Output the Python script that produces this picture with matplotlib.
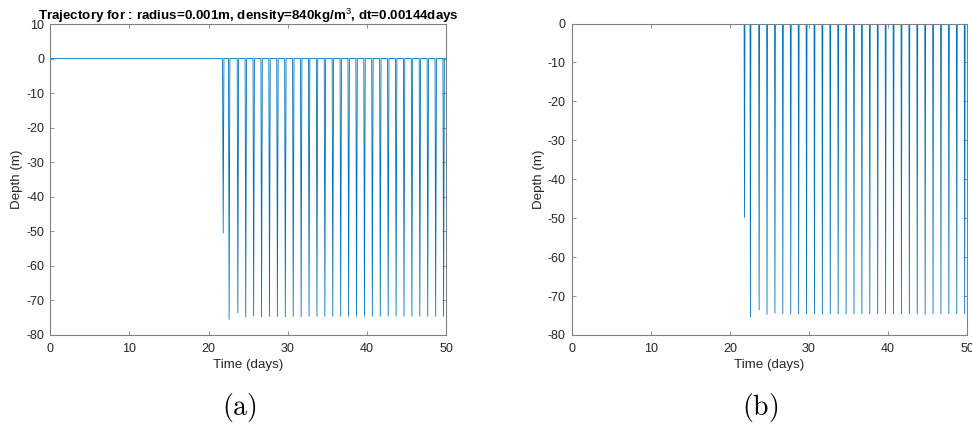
#!/usr/bin/env python3
"""
Particle depth trajectories: two runs side by side, (a) and (b).
"""

import matplotlib
matplotlib.use('Agg')
import matplotlib.pyplot as plt

# Times (days) at which each dive reaches its deepest point
dive_bottom_days = [21.85, 22.6, 23.7, 24.7, 25.7, 26.7, 27.7, 28.7, 29.7, 30.7,
                    31.7, 32.7, 33.7, 34.7, 35.7, 36.7, 37.7, 38.7, 39.7, 40.7,
                    41.7, 42.7, 43.7, 44.7, 45.7, 46.7, 47.7, 48.7, 49.7]

# Deepest point of each dive (m), run (a)
dive_depth_a = [-50.5, -75.5, -73.6, -74.8, -74.5, -74.7, -74.6, -74.6, -74.7, -74.6,
                -74.7, -74.6, -74.6, -74.6, -74.6, -74.6, -74.6, -74.6, -74.6, -74.6,
                -74.6, -74.6, -74.6, -74.6, -74.6, -74.6, -74.6, -74.6, -74.6]

# Deepest point of each dive (m), run (b)
dive_depth_b = [-49.8, -75.4, -73.5, -74.7, -74.4, -74.6, -74.6, -74.6, -74.6, -74.6,
                -74.6, -74.6, -74.6, -74.6, -74.6, -74.6, -74.6, -74.6, -74.6, -74.6,
                -74.6, -74.6, -74.6, -74.6, -74.6, -74.6, -74.6, -74.6, -74.6]

t_end = 50.0

title_a = r'Trajectory for : radius=0.001m, density=840kg/m$^3$, dt=0.00144days'
yticks_a = [10, 0, -10, -20, -30, -40, -50, -60, -70, -80]
yticks_b = [0, -10, -20, -30, -40, -50, -60, -70, -80]
xticks = [0, 10, 20, 30, 40, 50]

LINE_COLOR = '#0072BD'
AXIS_COLOR = '#808080'
TEXT_COLOR = '#262626'

plt.rcParams['font.family'] = ['Liberation Sans', 'DejaVu Sans']
plt.rcParams['axes.unicode_minus'] = False
plt.rcParams['mathtext.fontset'] = 'custom'
plt.rcParams['mathtext.rm'] = 'Liberation Sans'
plt.rcParams['mathtext.bf'] = 'Liberation Sans:bold'


def build_track(bottoms, depths, down, up):
    """Surface line broken by dives: drop to the bottom, come back up."""
    t, z = [0.0], [0.0]
    for b, d in zip(bottoms, depths):
        t += [b - down, b, b + up]
        z += [0.0, d, 0.0]
    t.append(t_end)
    z.append(0.0)
    return t, z


def style_axes(ax, ylim, yticks):
    ax.set_xlim(0, t_end)
    ax.set_ylim(*ylim)
    ax.set_xticks(xticks)
    ax.set_yticks(yticks)
    for s in ax.spines.values():
        s.set_color(AXIS_COLOR)
        s.set_linewidth(0.8)
    ax.tick_params(direction='in', length=3, width=0.6, color=AXIS_COLOR,
                   labelsize=9, labelcolor=TEXT_COLOR, top=True, right=True)
    ax.tick_params(axis='x', pad=6)
    ax.tick_params(axis='y', pad=4.5)
    ax.set_xlabel('Time (days)', fontsize=9.6, color=TEXT_COLOR, labelpad=3)
    ax.set_ylabel('Depth (m)', fontsize=9.6, color=TEXT_COLOR, labelpad=2)


fig = plt.figure(figsize=(9.72, 4.25), dpi=100)

ax_a = fig.add_axes([0.0517, 0.2118, 0.4071, 0.7317])
ta, za = build_track(dive_bottom_days, dive_depth_a, 0.08, 0.1)
ax_a.plot(ta, za, color=LINE_COLOR, linewidth=0.6)
style_axes(ax_a, (-80, 10), yticks_a)
ax_a.set_title(title_a, fontsize=9.6, fontweight='bold', color='black', pad=3)

ax_b = fig.add_axes([0.5882, 0.2118, 0.4067, 0.7329])
tb, zb = build_track(dive_bottom_days, dive_depth_b, 0.05, 0.06)
ax_b.plot(tb, zb, color=LINE_COLOR, linewidth=0.6)
style_axes(ax_b, (-80, 0), yticks_b)

# Sub-figure captions in Computer Modern
for xc, lab in [(0.246, 'a'), (0.782, 'b')]:
    fig.text(xc, 0.042, r'$(\mathrm{' + lab + r'})$', ha='center',
             va='center', fontsize=20, math_fontfamily='cm')

fig.savefig('out.png', dpi=100)
